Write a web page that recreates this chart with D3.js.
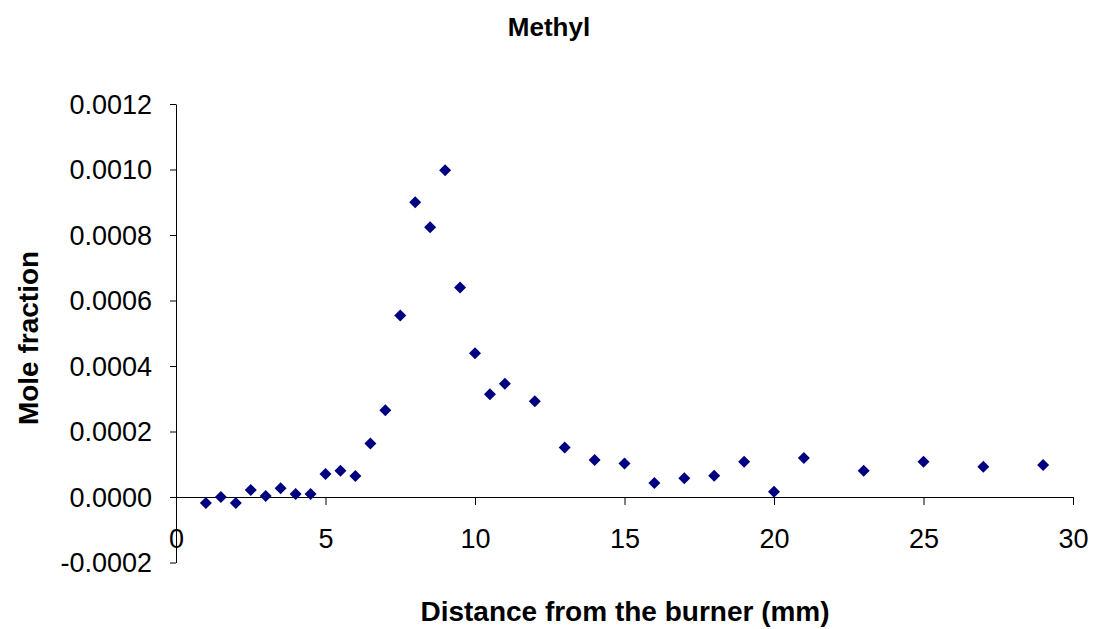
<!DOCTYPE html>
<html>
<head>
<meta charset="utf-8">
<script src="https://cdn.jsdelivr.net/npm/d3@7"></script>
<style>
  html, body { margin: 0; padding: 0; background: #fff; }
  svg { display: block; font-family: "Liberation Sans", Arial, sans-serif; }
</style>
</head>
<body>
<svg id="chart" width="1093" height="629"></svg>
<script>
// Data
const distance = [1, 1.5, 2, 2.5, 3, 3.5, 4, 4.5, 5, 5.5, 6, 6.5, 7, 7.5, 8, 8.5, 9, 9.5, 10, 10.5, 11, 12, 13, 14, 15, 16, 17, 18, 19, 20, 21, 23, 25, 27, 29];
const moleFraction = [-0.000018, 0.000000, -0.000018, 0.000021, 0.000003, 0.000027, 0.000009, 0.000009, 0.000070, 0.000080, 0.000064, 0.000163, 0.000265, 0.000554, 0.000900, 0.000824, 0.000998, 0.000640, 0.000439, 0.000314, 0.000346, 0.000292, 0.000151, 0.000113, 0.000102, 0.000043, 0.000057, 0.000065, 0.000108, 0.000016, 0.000119, 0.000080, 0.000108, 0.000092, 0.000098];
const xTicks = [0, 5, 10, 15, 20, 25, 30];
const yTicks = [-0.0002, 0, 0.0002, 0.0004, 0.0006, 0.0008, 0.0010, 0.0012];
const chartTitle = "Methyl";
const xTitle = "Distance from the burner (mm)";
const yTitle = "Mole fraction";

const svg = d3.select("#chart");
const x = d3.scaleLinear().domain([0, 30]).range([176, 1073]);
const y = d3.scaleLinear().domain([-0.0002, 0.0012]).range([562.5, 104]);

// Y axis
const fmtY = d3.format(".4f");
const yAxis = d3.axisLeft(y).tickValues(yTicks).tickSize(6).tickSizeOuter(0)
  .tickFormat(d => fmtY(d).replace("\u2212", "-"));
const gy = svg.append("g").attr("transform", `translate(${x(0)},0)`).call(yAxis);
gy.select(".domain").attr("stroke", "#000");
gy.selectAll(".tick line").attr("stroke", "#000");
gy.selectAll(".tick text")
  .attr("x", -24).attr("dy", "0.35em")
  .attr("fill", "#000")
  .style("font-size", "27px")
  .style("font-family", "'Liberation Sans', Arial, sans-serif");

// X axis at y = 0
const xAxis = d3.axisBottom(x).tickValues(xTicks).tickSize(8).tickSizeOuter(0)
  .tickFormat(d3.format("d"));
const gx = svg.append("g").attr("transform", `translate(0,${y(0)})`).call(xAxis);
gx.select(".domain").attr("stroke", "#000");
gx.selectAll(".tick line").attr("stroke", "#000");
gx.selectAll(".tick text")
  .attr("y", 51).attr("dy", 0)
  .attr("fill", "#000")
  .style("font-size", "27px")
  .style("font-family", "'Liberation Sans', Arial, sans-serif");

// Points
const sym = d3.symbol().type(d3.symbolSquare).size(72);
svg.append("g").selectAll("path")
  .data(distance.map((d, i) => [d, moleFraction[i]]))
  .join("path")
  .attr("d", sym)
  .attr("transform", d => `translate(${x(d[0])},${y(d[1])}) rotate(45)`)
  .attr("fill", "#000080");

// Titles
svg.append("text").attr("x", 549).attr("y", 36).attr("text-anchor", "middle")
  .style("font-size", "26px").style("font-weight", "bold").attr("fill", "#000")
  .text(chartTitle);
svg.append("text").attr("x", 625).attr("y", 621).attr("text-anchor", "middle")
  .style("font-size", "28px").style("font-weight", "bold").attr("fill", "#000")
  .text(xTitle);
svg.append("text").attr("transform", "translate(38,338) rotate(-90)").attr("text-anchor", "middle")
  .style("font-size", "28px").style("font-weight", "bold").attr("fill", "#000")
  .text(yTitle);
</script>
</body>
</html>
